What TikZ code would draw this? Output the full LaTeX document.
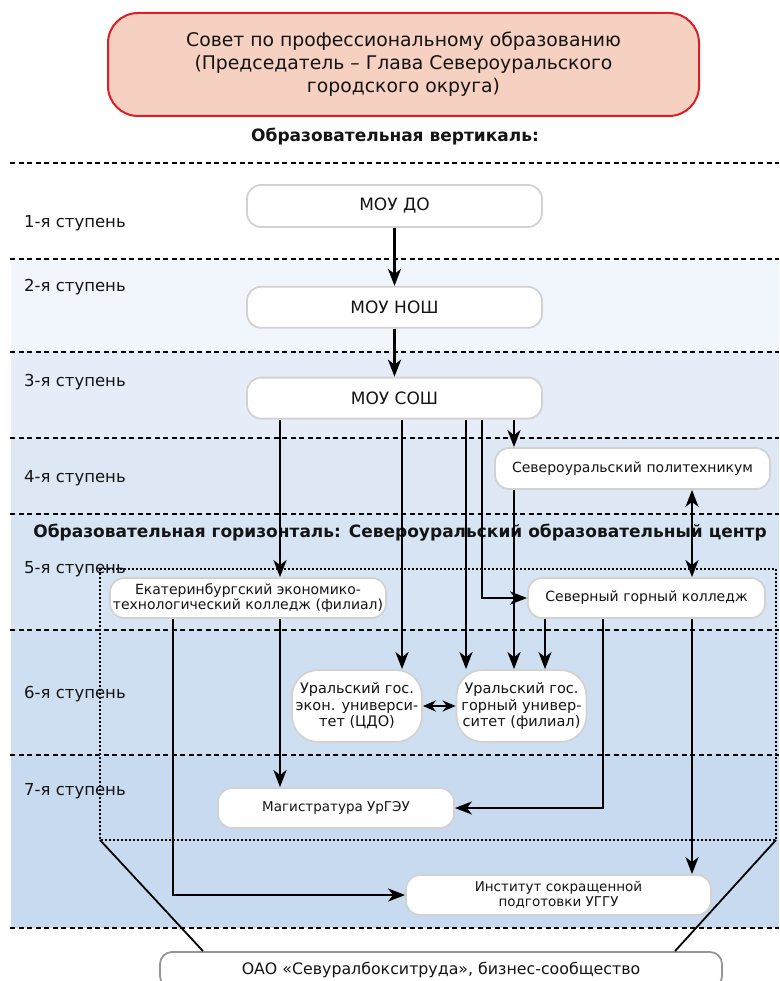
\documentclass[tikz,border=0pt]{standalone}
\usepackage{fontspec}
\setmainfont{DejaVu Sans}
\usetikzlibrary{positioning,arrows.meta,calc}
\definecolor{sovetfill}{RGB}{246,208,193}
\definecolor{sovetred}{RGB}{222,30,38}
\definecolor{boxgray}{RGB}{210,210,210}
\definecolor{oaogray}{RGB}{150,150,150}
\definecolor{txt}{RGB}{20,20,20}
\definecolor{bandb}{RGB}{241,245,252}
\definecolor{bandc}{RGB}{230,237,248}
\definecolor{bandd}{RGB}{222,232,245}
\definecolor{bande}{RGB}{215,228,243}
\definecolor{bandf}{RGB}{206,223,241}
\definecolor{bandg}{RGB}{199,218,240}

\begin{document}
\begin{tikzpicture}[x=1pt,y=-1pt,
		  every node/.style={text=txt,inner sep=2pt},
		  stbox/.style={draw=boxgray,line width=1.8pt,fill=white,rounded corners=14pt,
		    align=center,font=\fontsize{14}{16}\selectfont},
		  unibox/.style={stbox,rounded corners=26pt,minimum width=130,minimum height=72,
		    inner sep=0pt,font=\fontsize{14.5}{16.5}\selectfont},
		  steplbl/.style={anchor=west,font=\fontsize{16.5}{18}\selectfont},
		  headlbl/.style={font=\bfseries\fontsize{17}{20}\selectfont},
		  stepline/.style={dash pattern=on 5pt off 3.5pt,line width=1.3pt},
		  dotline/.style={dash pattern=on 2pt off 2pt,line width=2pt},
		  arr/.style={line width=2.8pt,-{Stealth[length=17pt,width=13pt,inset=5pt]}},
		  darr/.style={line width=2.8pt,{Stealth[length=17pt,width=13pt,inset=5pt]}-{Stealth[length=17pt,width=13pt,inset=5pt]}},
		  tie/.style={line width=1.8pt}
		]
			\useasboundingbox (0,0) rectangle (779,981);

			% the bands of the steps
			\foreach \ya/\yb/\col in {259/352/bandb,352/438/bandc,438/514/bandd,514/630/bande,630/755/bandf,755/928/bandg}
			  \fill[\col] (11,\ya) rectangle (779,\yb);
			\foreach \y in {163,259,352,438,514,630,755,928}
			  \draw[stepline] (10,\y) -- (779,\y);

			% the council
			\node[draw=sovetred,fill=sovetfill,line width=2pt,rounded corners=30pt,
			  minimum width=591,minimum height=103,align=center,
			  font=\fontsize{18.8}{23}\selectfont] (sovet) at (403.5,64.5)
			  {Совет по профессиональному образованию\\(Председатель – Глава Североуральского\\городского округа)};
			\node[headlbl] (vert) at (395,137) {Образовательная вертикаль:};

			% the steps
			\foreach \n/\y in {1/223,2/287,3/382,4/478,5/569,6/694,7/791}
			  \node[steplbl] (st\n) at (22,\y) {\n-я ступень};

			% the horizontal
			\node[headlbl] (horiz) at (400,533) {Образовательная горизонталь: Североуральский образовательный центр};
			\coordinate (hnw) at (100,569);
			\coordinate (hsw) at (100,840);
			\coordinate (hse) at (776,840);
			\draw[dotline] (hnw) rectangle (hse);

			% the schools
			\node[stbox,minimum width=295,minimum height=42,font=\fontsize{17}{18}\selectfont] (doo) at (394.5,206) {МОУ ДО};
			\node[stbox,minimum width=295,minimum height=41,font=\fontsize{17}{18}\selectfont,below=58pt of doo] (nosh) {МОУ НОШ};
			\node[stbox,minimum width=295,minimum height=41,font=\fontsize{17}{18}\selectfont,below=48pt of nosh] (sosh) {МОУ СОШ};

			% the colleges
			\node[stbox,minimum width=275,minimum height=41] (poly) at (632.5,468.5) {Североуральский политехникум};
			\node[stbox,minimum width=237,minimum height=40] (gorcol) at (646.5,598) {Северный горный колледж};
			\node[stbox,minimum width=276,minimum height=40,inner sep=0pt,font=\fontsize{14}{15.5}\selectfont] (ekat) at (248,598)
			  {Екатеринбургский экономико-\\технологический колледж (филиал)};

			% the universities
			\node[unibox] (uge) at (357,706) {Уральский гос.\\экон. универси-\\тет (ЦДО)};
			\node[unibox] (ugg) at (521.5,706) {Уральский гос.\\горный универ-\\ситет (филиал)};
			\node[stbox,minimum width=236,minimum height=40,font=\fontsize{13.5}{16}\selectfont] (mag) at (336,808) {Магистратура УрГЭУ};
			\node[stbox,minimum width=305,minimum height=40,font=\fontsize{13.5}{15}\selectfont] (isp) at (558.5,895)
			  {Институт сокращенной\\подготовки УГГУ};

			% the business
			\node[draw=oaogray,line width=1.8pt,fill=white,rounded corners=12pt,minimum width=562,minimum height=36,
			  font=\fontsize{15.8}{18}\selectfont] (oao) at (441,970) {ОАО «Севуралбокситруда», бизнес-сообщество};
			\draw[tie] (hsw) -- (203,0 |- oao.north);
			\draw[tie] (hse) -- (675,0 |- oao.north);

			% the edges
			\draw[arr] (doo) -- (nosh);
			\draw[arr] (nosh) -- (sosh);
			\draw[arr] (280,0 |- sosh.south) -- (280,0 |- ekat.north);
			\draw[arr] (402,0 |- sosh.south) -- (402,0 |- uge.north);
			\draw[arr] (466,0 |- sosh.south) -- (466,0 |- ugg.north);
			\draw[arr] (482,0 |- sosh.south) |- (gorcol.west);
			\draw[arr] (514,0 |- sosh.south) -- (514,0 |- poly.north);
			\draw[arr] (514,0 |- poly.south) -- (514,0 |- ugg.north);
			\draw[darr] (692,0 |- poly.south) -- (692,0 |- gorcol.north);
			\draw[arr] (545,0 |- gorcol.south) -- (545,0 |- ugg.north);
			\draw[arr] (603,0 |- gorcol.south) |- (mag.east);
			\draw[arr] (692,0 |- gorcol.south) -- (692,0 |- isp.north);
			\draw[arr] (280,0 |- ekat.south) -- (280,0 |- mag.north);
			\draw[arr] (173,0 |- ekat.south) |- (isp.west);
			\draw[line width=2.8pt,{Stealth[length=13pt,width=11pt]}-{Stealth[length=13pt,width=11pt]}] (uge.east) -- (ugg.west);

		\end{tikzpicture}
\end{document}
